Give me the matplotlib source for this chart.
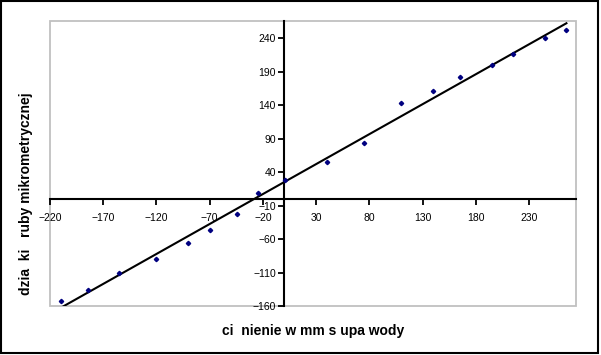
import numpy as np
import matplotlib
matplotlib.use("Agg")
import matplotlib.pyplot as plt
from matplotlib.patches import Rectangle

plt.rcParams['font.family'] = ['Liberation Sans', 'DejaVu Sans']

# Measured points: pressure (mm of water) vs micrometer screw divisions
pressure = [-210, -184, -155, -120, -90, -70, -44, -25, 1, 40, 75, 110, 140, 165, 195, 215, 245, 265]
divisions = [-153, -136, -110, -90, -66, -46, -22, 9, 29, 55, 83, 143, 161, 182, 200, 217, 241, 253]

x_ticks = list(range(-220, 231, 50))
y_ticks = list(range(-160, 241, 50))

fig = plt.figure(figsize=(6.01, 3.55), dpi=100)
ax = fig.add_axes([0.0832, 0.138, 0.8752, 0.803])

# Linear trendline through the measurements
slope, intercept = np.polyfit(pressure, divisions, 1)
xs = np.array([min(pressure), max(pressure)])
ax.plot(xs, slope * xs + intercept, color='black', lw=1.5, zorder=3)

ax.plot(pressure, divisions, linestyle='none', marker='D', markersize=2.2,
        color='#000080', zorder=4)

ax.set_xlim(-220, 274)
ax.set_ylim(-160, 266)
ax.set_xticks(x_ticks)
ax.set_yticks(y_ticks)
ax.tick_params(labelsize=7.5, length=4, width=1.3, color='black')
ax.tick_params(axis='x', pad=6)
ax.tick_params(axis='y', pad=2)

# axes crossing at zero
ax.spines['left'].set_position(('data', 0))
ax.spines['bottom'].set_position(('data', 0))
for s in ['left', 'bottom']:
    ax.spines[s].set_color('black')
    ax.spines[s].set_linewidth(1.5)
for s in ['top', 'right']:
    ax.spines[s].set_visible(False)

# gray plot area frame
ax.add_patch(Rectangle((0, 0), 1, 1, transform=ax.transAxes, fill=False,
                       edgecolor='#c0c0c0', lw=1.3, clip_on=False, zorder=0))

fig.text(0.521, 0.068, 'ci  nienie w mm s upa wody', ha='center', va='center',
         fontsize=10, fontweight='bold')
fig.text(0.043, 0.455, 'dzia  ki   ruby mikrometrycznej', ha='center', va='center',
         rotation=90, fontsize=10, fontweight='bold')

# outer chart border
fig.patches.append(Rectangle((0.002, 0.006), 0.993, 0.99, transform=fig.transFigure,
                             fill=False, edgecolor='black', lw=1.5))

fig.savefig('out.png', dpi=100)
